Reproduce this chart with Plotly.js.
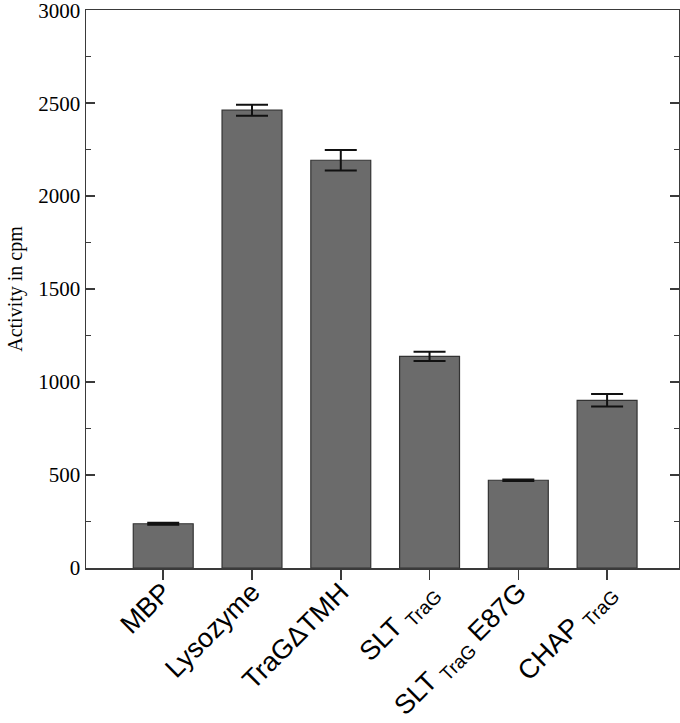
<!DOCTYPE html>
<html>
<head>
<meta charset="utf-8">
<script src="https://cdn.plot.ly/plotly-3.0.1.min.js"></script>
<style>
  html, body { margin: 0; padding: 0; background: #fff; }
  #chart { width: 680px; height: 723px; }
</style>
</head>
<body>
<div id="chart"></div>
<script>
// samples and measured activity (cpm), with error bar half-widths
const categories = [
  'MBP',
  'Lysozyme',
  'TraG\u0394TMH',
  'SLT <sub>TraG</sub>',
  'SLT <sub>TraG</sub> E87G',
  'CHAP <sub>TraG</sub>'
];
const activity = [238, 2462, 2193, 1138, 472, 902];
const activityErr = [5, 30, 55, 25, 4, 34];

const yTickVals = [0, 500, 1000, 1500, 2000, 2500, 3000];

const AXIS_COLOR = '#3a3a3a';
const SERIF = '"Liberation Serif", "Times New Roman", serif';
const SANS = '"Liberation Sans", Arial, sans-serif';

const trace = {
  type: 'bar',
  x: categories.map((_, i) => i),
  y: activity,
  width: 0.675,
  marker: {
    color: '#6b6b6b',
    line: { color: '#333333', width: 1.2 }
  },
  error_y: {
    type: 'data',
    array: activityErr,
    visible: true,
    color: '#111111',
    thickness: 2,
    width: 16
  },
  hoverinfo: 'x+y'
};

const layout = {
  width: 680,
  height: 723,
  margin: { l: 86, r: 1, t: 10, b: 155 },
  paper_bgcolor: '#ffffff',
  plot_bgcolor: '#ffffff',
  showlegend: false,
  xaxis: {
    range: [-0.87, 5.81],
    tickvals: categories.map((_, i) => i),
    ticktext: categories,
    tickangle: -45,
    ticks: 'outside',
    ticklen: 10,
    tickwidth: 1.5,
    tickcolor: AXIS_COLOR,
    ticklabelstandoff: -14,
    showline: true,
    linecolor: AXIS_COLOR,
    linewidth: 1.5,
    mirror: true,
    showgrid: false,
    zeroline: false,
    tickfont: { family: SANS, size: 27, color: '#000' }
  },
  yaxis: {
    range: [0, 3001],
    tickvals: yTickVals,
    ticks: 'inside',
    ticklen: 9,
    tickwidth: 1.5,
    tickcolor: AXIS_COLOR,
    ticklabeloverflow: 'allow',
    minor: { dtick: 250, ticks: 'inside', ticklen: 5, tickwidth: 1.2, tickcolor: AXIS_COLOR },
    showline: true,
    linecolor: AXIS_COLOR,
    linewidth: 1.5,
    mirror: 'ticks',
    showgrid: false,
    zeroline: false,
    tickfont: { family: SERIF, size: 21, color: '#000' },
    title: {
      text: 'Activity in cpm',
      font: { family: SERIF, size: 20, color: '#000' },
      standoff: 10
    }
  }
};

Plotly.newPlot('chart', [trace], layout, { displayModeBar: false, staticPlot: true });
</script>
</body>
</html>
